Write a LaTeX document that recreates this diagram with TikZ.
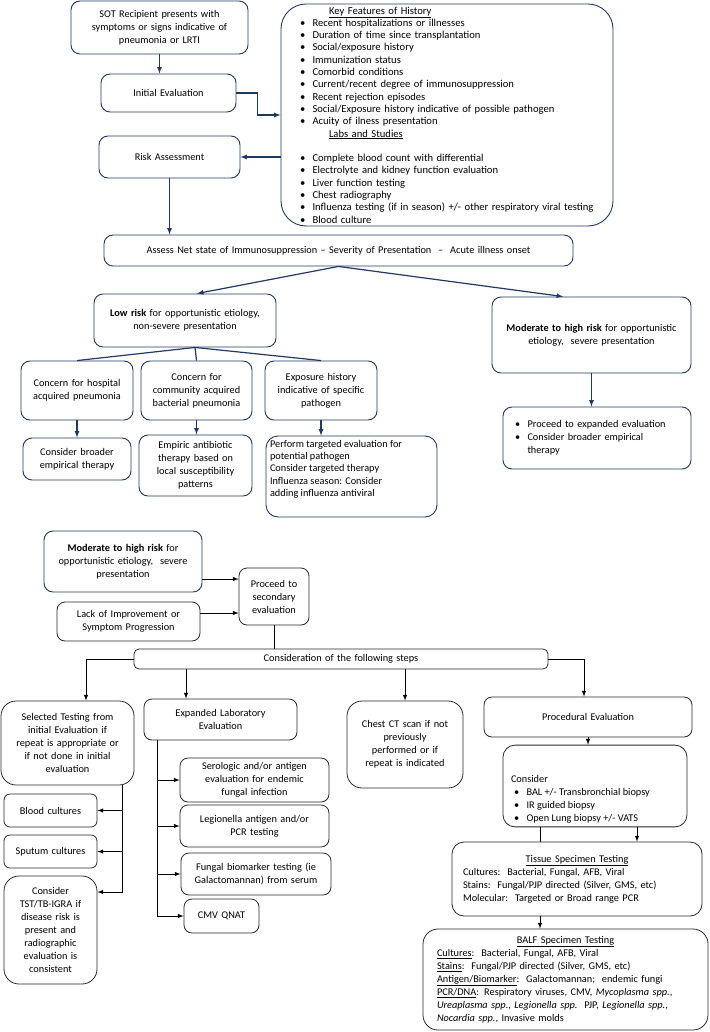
\documentclass[tikz,border=0pt]{standalone}
\usepackage{fontspec}
\setmainfont{Carlito}
\definecolor{navy}{RGB}{31,56,100}
\definecolor{boxgray}{RGB}{40,40,40}
\newcommand{\bul}{\makebox[12.5pt][l]{\textbullet}}

\begin{document}
\begin{tikzpicture}[x=1pt,y=-1pt,>=latex,font=\fontsize{10.3}{13}\selectfont,
    navybox/.style={draw=navy,line width=0.9pt,rounded corners=9pt,align=center,inner xsep=4pt,inner ysep=2pt},
    graybox/.style={draw=boxgray,line width=0.8pt,rounded corners=8pt,align=center,inner xsep=4pt,inner ysep=2pt},
    navyline/.style={draw=navy,line width=1.2pt},
    grayline/.style={draw=black,line width=1pt}]
    \useasboundingbox (0,0) rectangle (709,1032);

    \node[navybox,text width=169pt,minimum height=53pt] (sot) at (159.5,27.5) {SOT Recipient presents with\\symptoms or signs indicative of\\pneumonia or LRTI};
    \node[navybox,text width=127pt,minimum height=38pt] (init) at (168.5,93) {Initial Evaluation};
    \node[navybox,text width=133pt,minimum height=42pt] (risk) at (169.5,157) {Risk Assessment};
    \node[navybox,rounded corners=25pt,align=left,text width=294pt,inner xsep=19pt,minimum height=222pt,font=\fontsize{10.6}{12.3}\selectfont] (key) at (447,115) {\hspace*{29pt}\underline{Key Features of History}\\
        \bul Recent hospitalizations or illnesses\\
        \bul Duration of time since transplantation\\
        \bul Social/exposure history\\
        \bul Immunization status\\
        \bul Comorbid conditions\\
        \bul Current/recent degree of immunosuppression\\
        \bul Recent rejection episodes\\
        \bul Social/Exposure history indicative of possible pathogen\\
        \bul Acuity of ilness presentation\\
        \hspace*{29pt}\underline{Labs and Studies}\\[12.3pt]
        \bul Complete blood count with differential\\
        \bul Electrolyte and kidney function evaluation\\
        \bul Liver function testing\\
        \bul Chest radiography\\
        \bul Influenza testing (if in season) +/- other respiratory viral testing\\
        \bul Blood culture};
    \node[navybox,text width=461pt,minimum height=31pt] (assess) at (338.5,250.5) {Assess Net state of Immunosuppression – Severity of Presentation \ – \ Acute illness onset};
    \node[navybox,text width=174pt,minimum height=53pt] (low) at (185,320.5) {\textbf{Low risk} for opportunistic etiology,\\non-severe presentation};
    \node[navybox,text width=191pt,minimum height=76pt] (mod) at (591.5,335) {\textbf{Moderate to high risk} for opportunistic\\etiology, \ severe presentation};
    \node[navybox,text width=104pt,minimum height=59pt] (hosp) at (77,390.5) {Concern for hospital\\acquired pneumonia};
    \node[navybox,text width=103pt,minimum height=59pt] (cap) at (196.5,390.5) {Concern for\\community acquired\\bacterial pneumonia};
    \node[navybox,text width=104pt,minimum height=59pt] (expo) at (321,390.5) {Exposure history\\indicative of specific\\pathogen};
    \node[navybox,text width=100pt,minimum height=42pt] (broad) at (77,459) {Consider broader\\empirical therapy};
    \node[navybox,text width=105pt,minimum height=61pt] (empir) at (195.5,465.5) {Empiric antibiotic\\therapy based on\\local susceptibility\\patterns};
    \node[navybox,inner sep=4pt,rounded corners=12pt,font=\fontsize{10.3}{12.4}\selectfont] (perf) at (351.5,476.5) {\begin{minipage}[t][73pt][t]{163pt}\raggedright Perform targeted evaluation for\\potential pathogen\\Consider targeted therapy\\Influenza season: Consider\\adding influenza antiviral\end{minipage}};
    \node[navybox,align=left,text width=164pt,inner xsep=12pt,minimum height=62pt] (expand) at (597,438) {\bul Proceed to expanded evaluation\\\bul Consider broader empirical\\\hspace*{12.5pt}therapy};

    \draw[navyline,->] (sot.south) -- (sot.south |- init.north);
    \draw[navyline,->] (init.east) -- ++(21,0) |- (key.west);
    \draw[navyline,->] (key.west |- risk.east) -- (risk.east);
    \draw[navyline,->] (risk.south) -- (risk.south |- assess.north);
    \draw[navyline,->] (assess.south) -- ([xshift=12pt]low.north);
    \draw[navyline,->] (assess.south) -- ([xshift=-28.5pt]mod.north);
    \draw[navyline,->] (mod.south) -- (mod.south |- expand.north);
    \draw[navyline] ([xshift=10pt]low.south) -- (hosp.north);
    \draw[navyline] ([xshift=10pt]low.south) -- (cap.north);
    \draw[navyline] ([xshift=10pt]low.south) -- (expo.north);
    \draw[navyline,->] (hosp.south) -- (broad.north);
    \draw[navyline,->] (cap.south) -- (cap.south |- empir.north);
    \draw[navyline,->] (expo.south) -- (expo.south |- perf.north);

    \node[navybox,text width=150pt,minimum height=61pt] (mod2) at (123,561.5) {\textbf{Moderate to high risk} for\\opportunistic etiology, \ severe\\presentation};
    \node[graybox,text width=135pt,minimum height=39pt] (lack) at (128.5,621.5) {Lack of Improvement or\\Symptom Progression};
    \node[graybox,text width=62pt,minimum height=57pt] (sec) at (274,596.5) {Proceed to\\secondary\\evaluation};
    \node[graybox,text width=406pt,minimum height=20pt,rounded corners=5pt] (steps) at (341,659) {Consideration of the following steps};
    \node[graybox,text width=125pt,minimum height=84pt,rounded corners=15pt] (sel) at (67.5,743) {Selected Testing from\\initial Evaluation if\\repeat is appropriate or\\if not done in initial\\evaluation};
    \node[graybox,text width=145pt,minimum height=41pt] (lab) at (220.5,719.5) {Expanded Laboratory\\Evaluation};
    \node[graybox,text width=108pt,minimum height=87pt,rounded corners=15pt] (ct) at (405,744.5) {Chest CT scan if not\\previously\\performed or if\\repeat is indicated};
    \node[graybox,text width=200pt,minimum height=40pt] (proc) at (588,717) {Procedural Evaluation};
    \node[graybox,inner xsep=8pt,inner ysep=4pt,rounded corners=12pt] (cons) at (595,786) {\begin{minipage}[t][72pt][b]{168pt}\raggedright Consider\\\hspace*{3pt}\bul BAL +/- Transbronchial biopsy\\\hspace*{3pt}\bul IR guided biopsy\\\hspace*{3pt}\bul Open Lung biopsy +/- VATS\end{minipage}};
    \node[graybox,align=left,text width=228pt,inner xsep=11pt,minimum height=74pt,rounded corners=12pt] (tissue) at (577,879) {\makebox[228pt]{\underline{Tissue Specimen Testing}}\\Cultures:\ \ Bacterial, Fungal, AFB, Viral\\Stains:\ \ Fungal/PJP directed (Silver, GMS, etc)\\Molecular:\ \ Targeted or Broad range PCR};
    \node[graybox,align=left,text width=257pt,inner xsep=14pt,minimum height=101pt,rounded corners=15pt] (balf) at (565.5,979.5) {\makebox[257pt]{\underline{BALF Specimen Testing}}\\
        \underline{Cultures}:\ \ Bacterial, Fungal, AFB, Viral\\
        \underline{Stains}:\ \ Fungal/PJP directed (Silver, GMS, etc)\\
        \underline{Antigen/Biomarker}:\ \ Galactomannan;\ \ endemic fungi\\
        \underline{PCR/DNA}: Respiratory viruses, CMV, \textit{Mycoplasma spp.},\\
        \textit{Ureaplasma spp.}, \textit{Legionella spp.}\ \ PJP, \textit{Legionella spp.},\\
        \textit{Nocardia spp.}, Invasive molds};
    \node[graybox,text width=85pt,minimum height=33pt,rounded corners=6pt] (blood) at (50.5,810.5) {Blood cultures};
    \node[graybox,text width=85pt,minimum height=33pt,rounded corners=6pt] (sput) at (50.5,851.5) {Sputum cultures};
    \node[graybox,text width=85pt,minimum height=108pt,rounded corners=15pt] (tst) at (50.5,930) {Consider\\TST/TB-IGRA if\\disease risk is\\present and\\radiographic\\evaluation is\\consistent};
    \node[graybox,text width=141pt,minimum height=44pt] (sero) at (254.5,780) {Serologic and/or antigen\\evaluation for endemic\\fungal infection};
    \node[graybox,text width=141pt,minimum height=42pt] (legio) at (254.5,826) {Legionella antigen and/or\\PCR testing};
    \node[graybox,text width=142pt,minimum height=42pt] (fung) at (256,874) {Fungal biomarker testing (ie\\Galactomannan) from serum};
    \node[graybox,text width=67pt,minimum height=34pt] (cmv) at (221.5,916) {CMV QNAT};

    \coordinate (r1) at (0,579);
    \coordinate (r2) at (0,613);
    \draw[grayline,->] (mod2.east |- r1) -- (sec.west |- r1);
    \draw[grayline,->] (lack.east |- r2) -- (sec.west |- r2);
    \draw[grayline] (sec.south) -- (sec.south |- steps.north);
    \draw[grayline,->] (steps.west) -| ([xshift=18.5pt]sel.north);
    \draw[grayline,->] (steps.east) -| ([xshift=-4pt]proc.north);
    \draw[grayline,->] ([xshift=-155pt]steps.south) -- ([xshift=-34.5pt]lab.north);
    \draw[grayline,->] (steps.south -| ct.north) -- (ct.north);
    \draw[grayline,->] ([xshift=54.5pt]sel.south) |- (blood.east);
    \draw[grayline,->] ([xshift=54.5pt]sel.south) |- (sput.east);
    \draw[grayline,->] ([xshift=54.5pt]sel.south) |- ([yshift=38pt]tst.east);
    \draw[grayline,->] ([xshift=-63.5pt]lab.south) |- (sero.west);
    \draw[grayline,->] ([xshift=-63.5pt]lab.south) |- (legio.west);
    \draw[grayline,->] ([xshift=-63.5pt]lab.south) |- (fung.west);
    \draw[grayline,->] ([xshift=-63.5pt]lab.south) |- (cmv.west);
    \draw[grayline,->] (proc.south) -- (proc.south |- cons.north);
    \draw[grayline] ([xshift=-55pt]cons.south) -- ([xshift=-37pt]tissue.north);
    \draw[grayline,->] ([xshift=42pt]cons.south) -- ([xshift=60pt]tissue.north);
    \draw[grayline,->] ([xshift=-37pt]tissue.south) -- ([xshift=-25.5pt]balf.north);
\end{tikzpicture}
\end{document}
